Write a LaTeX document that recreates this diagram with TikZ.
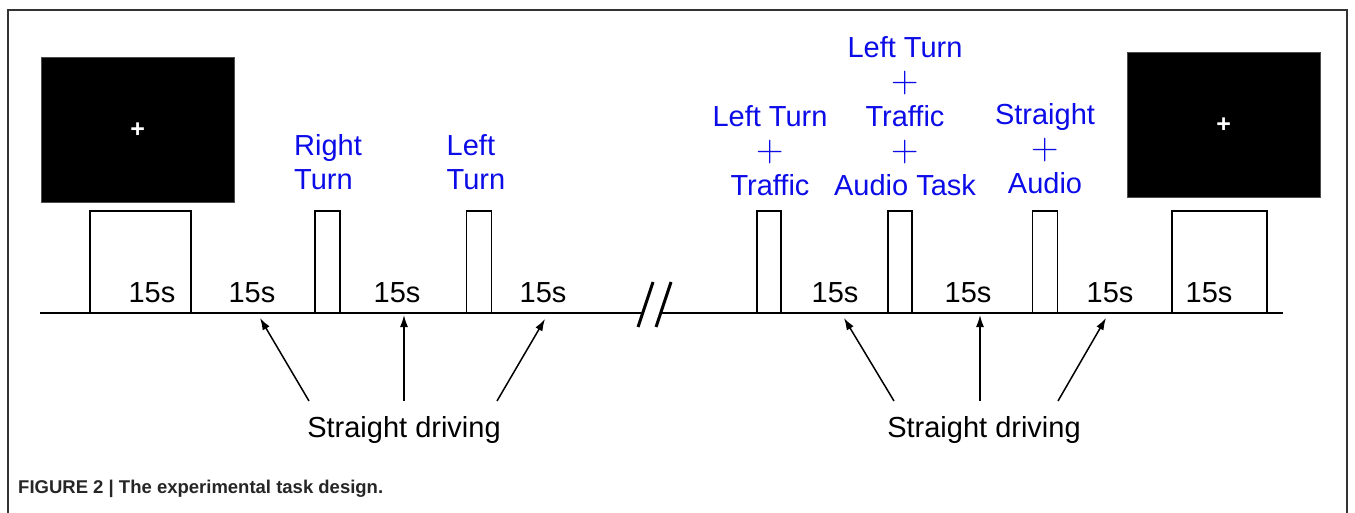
\documentclass[tikz,border=0pt]{standalone}
\usepackage{fontspec}
\setmainfont{Liberation Sans}
\newfontfamily\plusfont{Latin Modern Roman}
\usetikzlibrary{arrows.meta,positioning}

\definecolor{cueblue}{RGB}{12,12,232}
\newcommand{\cueplus}{{\plusfont\fontsize{38}{34.5}\selectfont +}}

\tikzset{
  block/.style={draw, line width=1.5pt, inner sep=0pt, minimum height=101pt, anchor=south},
  screen/.style={fill=black, draw=black!70, inner sep=0pt, minimum width=193pt, minimum height=145pt, text=white, font=\bfseries\fontsize{25}{25}\selectfont},
  dur/.style={font=\fontsize{29}{34}\selectfont, anchor=base},
  cue/.style={font=\fontsize{29}{34.5}\selectfont, text=cueblue, inner sep=0pt, anchor=south},
  drive/.style={font=\fontsize{29}{34}\selectfont, inner sep=0pt, outer ysep=15pt, anchor=base},
  pointer/.style={-{Latex[length=12pt,width=8pt]}, line width=1.5pt},
}

\begin{document}
\begin{tikzpicture}[x=1pt,y=-1pt]
\useasboundingbox (0,0) rectangle (1355,513);

% frame
\draw[line width=1.2pt, black!80] (8,513) -- (8,10) -- (1347,10) -- (1347,513);

% fixation screens
\node[screen, anchor=north west] (fixL) at (41,57) {+};
\node[screen, anchor=north west] (fixR) at (1127,52) {+};

% time line
\coordinate (tl0) at (40,313);
\coordinate (brkL) at (643,313);
\coordinate (brkR) at (661,313);
\coordinate (tl1) at (1283,313);
\draw[line width=2pt] (tl0) -- (brkL);
\draw[line width=2pt] (brkR) -- (tl1);
\draw[line width=3pt] (638,327) -- (653,282);
\draw[line width=3pt] (656,327) -- (671,282);

% rest and task blocks
\node[block, minimum width=101pt] (restL) at (140.5,313) {};
\node[block, minimum width=25pt] (rturn) at (327.5,313) {};
\node[block, minimum width=25pt] (lturn) at (479,313) {};
\node[block, minimum width=24pt] (ltraf) at (769,313) {};
\node[block, minimum width=24pt] (ltaud) at (900,313) {};
\node[block, minimum width=25pt] (staud) at (1045,313) {};
\node[block, minimum width=95pt] (restR) at (1219.5,313) {};

% durations
\node[dur] (d1) at (152,302) {15s};
\node[dur] (d2) at (252,302) {15s};
\node[dur] (d3) at (397,302) {15s};
\node[dur] (d4) at (543,302) {15s};
\node[dur] (d5) at (835,302) {15s};
\node[dur] (d6) at (968,302) {15s};
\node[dur] (d7) at (1110,302) {15s};
\node[dur] (d8) at (1209,302) {15s};

% task cues
\node[cue, align=left] (rturnTxt) at (328,190) {Right\\Turn};
\node[cue, align=left] (lturnTxt) at (476,190) {Left\\Turn};
\node[cue, align=center] (ltrafTxt) at (770,196) {Left Turn\\\cueplus\\Traffic};
\node[cue, align=center] (ltaudTxt) at (905,196) {Left Turn\\\cueplus\\Traffic\\\cueplus\\Audio Task};
\node[cue, align=center] (staudTxt) at (1045,194) {Straight\\\cueplus\\Audio};

% straight driving pointers
\node[drive] (drvL) at (404,437) {Straight driving};
\node[drive] (drvR) at (984,437) {Straight driving};

\coordinate (p1) at (260,318);
\coordinate (p2) at (404,315);
\coordinate (p3) at (545,319);
\coordinate (p4) at (844,318);
\coordinate (p5) at (980,315);
\coordinate (p6) at (1106,318);

\draw[pointer] ([xshift=-95pt]drvL.north) -- (p1);
\draw[pointer] (drvL.north) -- (p2);
\draw[pointer] ([xshift=93pt]drvL.north) -- (p3);
\draw[pointer] ([xshift=-90pt]drvR.north) -- (p4);
\draw[pointer] ([xshift=-4pt]drvR.north) -- (p5);
\draw[pointer] ([xshift=74pt]drvR.north) -- (p6);

% caption
\node[anchor=base west, inner sep=0pt, text=black!85, font=\bfseries\fontsize{18.5}{22}\selectfont] (cap) at (18,493) {FIGURE 2 | The experimental task design.};
\end{tikzpicture}
\end{document}
